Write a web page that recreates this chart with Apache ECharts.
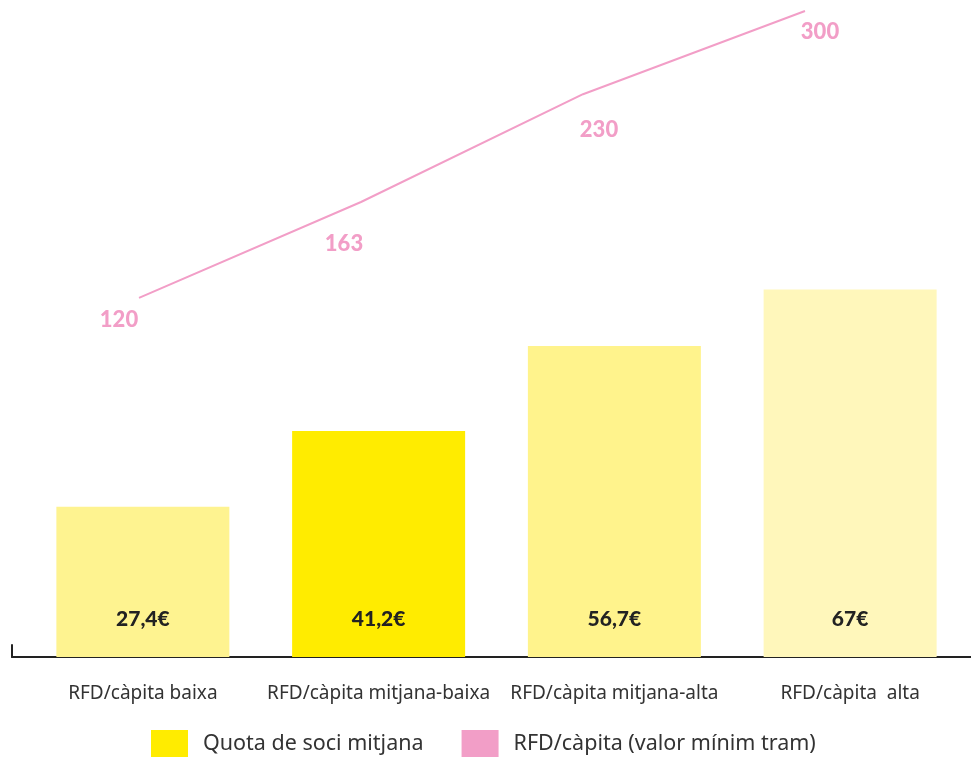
<!DOCTYPE html>
<html>
<head>
<meta charset="utf-8">
<script src="https://cdn.jsdelivr.net/npm/echarts@6/dist/echarts.min.js"></script>
<style>
    html, body { margin: 0; padding: 0; background: #fff; }
    #chart { width: 971px; height: 758px; }
</style>
</head>
<body>
<div id="chart"></div>
<script>
// categories i valors
const categories = ['RFD/càpita baixa', 'RFD/càpita mitjana-baixa', 'RFD/càpita mitjana-alta', 'RFD/càpita  alta'];
const quotaValues = [27.4, 41.2, 56.7, 67];
const quotaLabels = ['27,4€', '41,2€', '56,7€', '67€'];
const rfdValues = [120, 163, 230, 300];

// estil de cada barra i desplaçament de les etiquetes rosa
const barColors = ['#fef390', '#ffec00', '#fff38c', '#fff7bb'];
const rfdLabelOffsets = [[-20, 22], [-17, 42], [16, 36], [15, 21]];

const pink = '#f29ec7';
const font = 'Noto Sans';
const boldFont = 'Lato';

const chart = echarts.init(document.getElementById('chart'));

const option = {
    animation: false,
    backgroundColor: '#fff',
    textStyle: { fontFamily: font },
    legend: {
        left: 151,
        top: 730,
        padding: 0,
        icon: 'rect',
        itemWidth: 37,
        itemHeight: 27,
        itemGap: 38,
        textStyle: { fontSize: 21.5, color: '#333', fontFamily: font, padding: [3, 0, 0, 10] },
        data: ['Quota de soci mitjana', 'RFD/càpita (valor mínim tram)']
    },
    grid: [
        // barres
        { left: 25, right: 3, top: 108.6, bottom: 101, containLabel: false },
        // línia
        { left: 139, right: 166, top: 11, height: 344, containLabel: false },
        // eix inferior
        { left: 12, right: 0, top: 645, bottom: 101, containLabel: false }
    ],
    xAxis: [
        {
            gridIndex: 0,
            type: 'category',
            data: categories,
            axisLine: { show: false },
            axisTick: { show: false },
            axisLabel: { color: '#333', fontSize: 19, margin: 27, interval: 0, fontFamily: font }
        },
        {
            gridIndex: 1,
            type: 'category',
            data: categories,
            boundaryGap: false,
            show: false
        },
        {
            gridIndex: 2,
            type: 'value',
            axisLine: { show: true, lineStyle: { color: '#222', width: 2 } },
            axisTick: { show: false },
            axisLabel: { show: false },
            splitLine: { show: false }
        }
    ],
    yAxis: [
        { gridIndex: 0, type: 'value', min: 0, max: 100, show: false },
        { gridIndex: 1, type: 'log', min: 100, max: 300, show: false },
        {
            gridIndex: 2,
            type: 'value',
            axisLine: { show: true, lineStyle: { color: '#222', width: 2 } },
            axisTick: { show: false },
            axisLabel: { show: false },
            splitLine: { show: false }
        }
    ],
    series: [
        {
            name: 'Quota de soci mitjana',
            type: 'bar',
            xAxisIndex: 0,
            yAxisIndex: 0,
            barWidth: 173,
            itemStyle: { color: '#ffec00' },
            label: {
                show: true,
                position: 'insideBottom',
                distance: 27,
                color: '#222',
                fontSize: 21,
                fontWeight: 900,
                fontFamily: boldFont,
                formatter: p => quotaLabels[p.dataIndex]
            },
            data: quotaValues.map((v, i) => ({ value: v, itemStyle: { color: barColors[i] } }))
        },
        {
            name: 'RFD/càpita (valor mínim tram)',
            type: 'line',
            xAxisIndex: 1,
            yAxisIndex: 1,
            symbol: 'circle',
            symbolSize: 0,
            showSymbol: true,
            lineStyle: { color: pink, width: 2 },
            itemStyle: { color: pink },
            label: {
                show: true,
                position: 'inside',
                color: pink,
                fontSize: 22,
                fontWeight: 900,
                fontFamily: boldFont
            },
            data: rfdValues.map((v, i) => ({ value: v, label: { offset: rfdLabelOffsets[i] } }))
        }
    ]
};

chart.setOption(option);
window.addEventListener('resize', () => chart.resize());
</script>
</body>
</html>
